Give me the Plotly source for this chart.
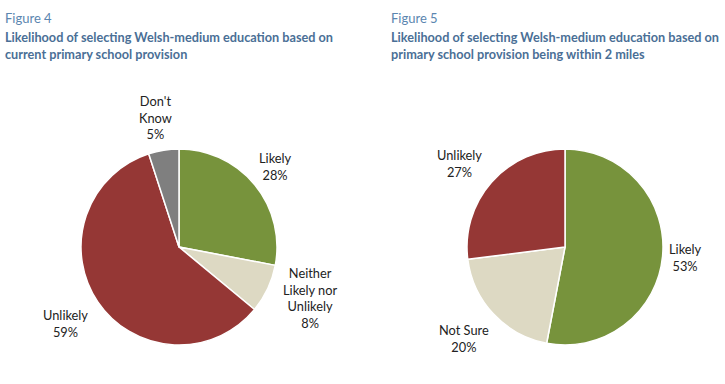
import plotly.graph_objects as go

W, H = 725, 384

# Figure 4 data
f4_labels = ["Likely", "Neither<br>Likely nor<br>Unlikely", "Unlikely", "Don't<br>Know"]
f4_values = [28, 8, 59, 5]
f4_colors = ["#77933C", "#DDD9C3", "#953735", "#7F7F7F"]

# Figure 5 data
f5_labels = ["Likely", "Not Sure", "Unlikely"]
f5_values = [53, 20, 27]
f5_colors = ["#77933C", "#DDD9C3", "#953735"]

FONT = "Lato"

def px_dom(cx, cy, r):
    return dict(x=[(cx - r) / W, (cx + r) / W], y=[(H - cy - r) / H, (H - cy + r) / H])

fig = go.Figure()
fig.add_trace(go.Pie(
    values=f4_values, labels=f4_labels, sort=False, direction="clockwise", rotation=0,
    marker=dict(colors=f4_colors, line=dict(color="white", width=1.5)),
    textinfo="none", hoverinfo="label+percent", showlegend=False,
    domain=px_dom(179, 247, 98),
))
fig.add_trace(go.Pie(
    values=f5_values, labels=f5_labels, sort=False, direction="clockwise", rotation=0,
    marker=dict(colors=f5_colors, line=dict(color="white", width=1.5)),
    textinfo="none", hoverinfo="label+percent", showlegend=False,
    domain=px_dom(565, 247, 98),
))

ann = []
def txt(x, y, s, size=12.8, color="#222222", bold=False, anchor="center"):
    ann.append(dict(x=x / W, y=1 - y / H, xref="paper", yref="paper", text=("<b>%s</b>" % s) if bold else s,
                    showarrow=False, xanchor=anchor, yanchor="middle", align="center",
                    font=dict(family=FONT, size=size, color=color)))

# titles
txt(3, 18, "Figure 4", size=13, color="#5B86B0", anchor="left")
txt(3, 37, "Likelihood of selecting Welsh-medium education based on", size=12.7, color="#4A6F96", bold=True, anchor="left")
txt(3, 54, "current primary school provision", size=12.7, color="#4A6F96", bold=True, anchor="left")
txt(389, 18, "Figure 5", size=13, color="#5B86B0", anchor="left")
txt(389, 37, "Likelihood of selecting Welsh-medium education based on", size=12.7, color="#4A6F96", bold=True, anchor="left")
txt(389, 54, "primary school provision being within 2 miles", size=12.7, color="#4A6F96", bold=True, anchor="left")

# slice labels (label + value)
f4_pos = [(275, 166), (310, 298), (65, 323), (155, 117)]
for (x, y), lab, v in zip(f4_pos, f4_labels, f4_values):
    txt(x, y, "%s<br>%d%%" % (lab, v))
f5_pos = [(685, 257), (464, 338), (459, 164)]
for (x, y), lab, v in zip(f5_pos, f5_labels, f5_values):
    txt(x, y, "%s<br>%d%%" % (lab, v))

fig.update_layout(
    width=W, height=H, margin=dict(l=0, r=0, t=0, b=0),
    paper_bgcolor="white", plot_bgcolor="white",
    annotations=ann, font=dict(family=FONT),
)
fig.write_html("out.html", config={"displayModeBar": False},
               post_script="document.body.style.margin='0';document.body.style.overflow='hidden';")
